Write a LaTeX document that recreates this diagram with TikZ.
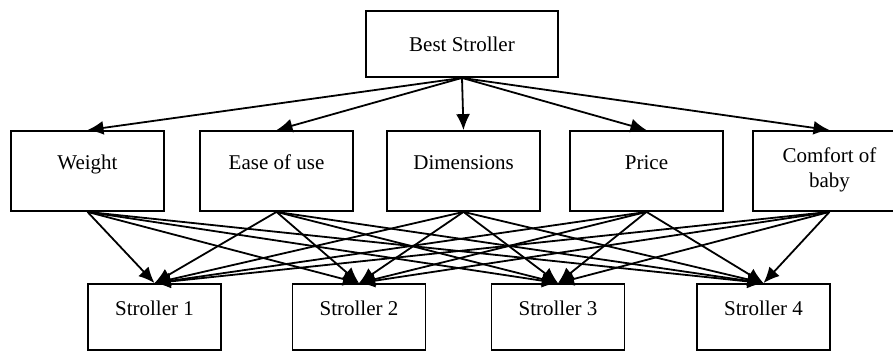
\documentclass[tikz,border=0pt]{standalone}
\usepackage{fontspec}
\setmainfont{Liberation Serif}
\usetikzlibrary{arrows.meta}

\begin{document}
\begin{tikzpicture}[x=1pt,y=-1pt,line width=1.8pt,
      nodes={font=\fontsize{21}{25}\selectfont, inner sep=4pt},
      >={Latex[length=16pt,width=14pt]}]
    \useasboundingbox (0,0) rectangle (893,351);

    \node[draw,rectangle,minimum width=192pt,minimum height=66pt](best) at (462,44){Best Stroller};

    \node[draw,rectangle,minimum width=153pt,minimum height=80pt,text height=34pt,text depth=38pt](n0) at (87.5,171){Weight};
    \node[draw,rectangle,right of=n0,node distance=189pt,minimum width=153pt,minimum height=80pt,text height=34pt,text depth=38pt](n1){Ease of use};
    \node[draw,rectangle,right of=n1,node distance=187pt,minimum width=153pt,minimum height=80pt,text height=34pt,text depth=38pt](n2){Dimensions};
    \node[draw,rectangle,right of=n2,node distance=183pt,minimum width=153pt,minimum height=80pt,text height=34pt,text depth=38pt](n3){Price};
    \node[draw,rectangle,right of=n3,node distance=183pt,minimum width=153pt,minimum height=80pt,text height=52pt,text depth=20pt,align=center](n4){Comfort of\\baby};
    \draw[->] (best.south) -- (n0.north);
    \draw[->] (best.south) -- (n1.north);
    \draw[->] (best.south) -- (n2.north);
    \draw[->] (best.south) -- (n3.north);
    \draw[->] (best.south) -- (n4.north);

    \node[draw,rectangle,minimum width=133pt,minimum height=66pt,text height=27pt,text depth=31pt](s1) at (154.5,317){Stroller 1};
    \node[draw,rectangle,right of=s1,node distance=204.5pt,minimum width=133pt,minimum height=66pt,text height=27pt,text depth=31pt](s2){Stroller 2};
    \node[draw,rectangle,right of=s2,node distance=199pt,minimum width=133pt,minimum height=66pt,text height=27pt,text depth=31pt](s3){Stroller 3};
    \node[draw,rectangle,right of=s3,node distance=205.5pt,minimum width=133pt,minimum height=66pt,text height=27pt,text depth=31pt](s4){Stroller 4};

    \draw[->] (n0.south) -- (s1.north); \draw[->] (n0.south) -- (s2.north); \draw[->] (n0.south) -- (s3.north); \draw[->] (n0.south) -- (s4.north);
    \draw[->] (n1.south) -- (s1.north); \draw[->] (n1.south) -- (s2.north); \draw[->] (n1.south) -- (s3.north); \draw[->] (n1.south) -- (s4.north);
    \draw[->] (n2.south) -- (s1.north); \draw[->] (n2.south) -- (s2.north); \draw[->] (n2.south) -- (s3.north); \draw[->] (n2.south) -- (s4.north);
    \draw[->] (n3.south) -- (s1.north); \draw[->] (n3.south) -- (s2.north); \draw[->] (n3.south) -- (s3.north); \draw[->] (n3.south) -- (s4.north);
    \draw[->] (n4.south) -- (s1.north); \draw[->] (n4.south) -- (s2.north); \draw[->] (n4.south) -- (s3.north); \draw[->] (n4.south) -- (s4.north);

\end{tikzpicture}
\end{document}
